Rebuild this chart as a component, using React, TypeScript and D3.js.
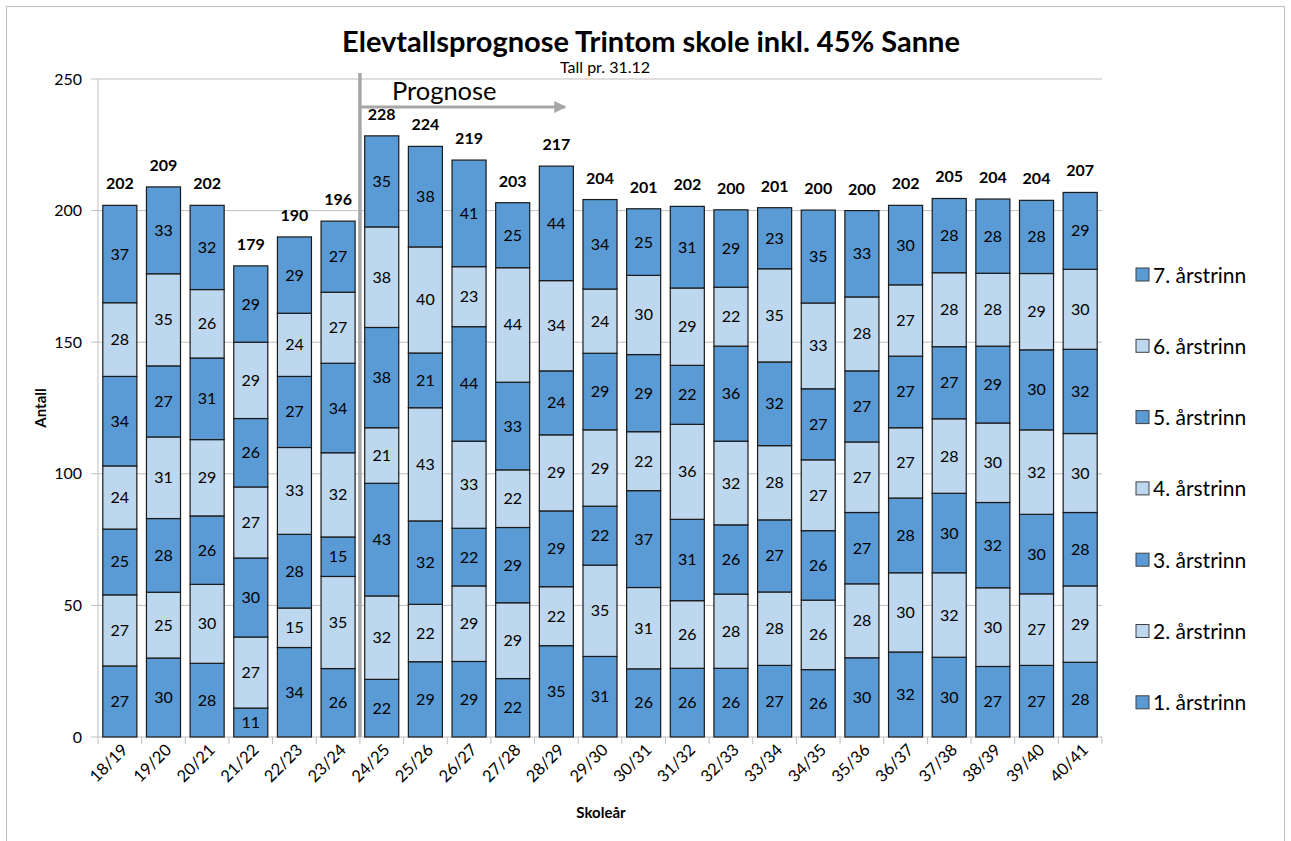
import React from "react";
import * as d3 from "d3";

const years = [
  "18/19", "19/20", "20/21", "21/22", "22/23", "23/24", "24/25", "25/26",
  "26/27", "27/28", "28/29", "29/30", "30/31", "31/32", "32/33", "33/34",
  "34/35", "35/36", "36/37", "37/38", "38/39", "39/40", "40/41",
];

const seriesNames = [
  "1. årstrinn", "2. årstrinn", "3. årstrinn", "4. årstrinn",
  "5. årstrinn", "6. årstrinn", "7. årstrinn",
];

// values per grade (forecast years carry decimals)
const trinn1 = [27, 30, 28, 11, 34, 26, 21.9, 28.6, 28.7, 22.2, 34.7, 30.6, 25.9, 26.1, 26.1, 27.2, 25.6, 30.1, 32.3, 30.3, 26.8, 27.2, 28.4];
const trinn2 = [27, 25, 30, 27, 15, 35, 31.7, 21.8, 28.7, 28.8, 22.4, 34.7, 30.9, 25.7, 28.2, 27.9, 26.4, 28.1, 30.1, 32.1, 29.9, 27.2, 29.0];
const trinn3 = [25, 28, 26, 30, 28, 15, 42.8, 31.7, 21.9, 28.6, 28.8, 22.4, 36.8, 30.9, 26.3, 27.4, 26.4, 27.1, 28.4, 30.2, 32.4, 30.2, 27.9];
const trinn4 = [24, 31, 29, 27, 33, 32, 21.1, 43.0, 33.1, 21.9, 28.9, 29.0, 22.4, 36.1, 31.8, 28.2, 26.9, 26.8, 26.7, 28.3, 30.2, 32.1, 30.0];
const trinn5 = [34, 27, 31, 26, 27, 34, 38.1, 20.8, 43.5, 33.3, 24.3, 29.1, 29.3, 22.4, 36.1, 31.8, 27.0, 27.0, 27.2, 27.4, 29.2, 30.4, 32.0];
const trinn6 = [28, 35, 26, 29, 24, 27, 38.2, 40.3, 22.8, 43.5, 34.3, 24.4, 30.1, 29.4, 22.4, 35.4, 32.6, 28.1, 27.1, 28.1, 27.7, 29.0, 30.4];
const trinn7 = [37, 33, 32, 29, 29, 27, 34.6, 38.2, 40.5, 24.7, 43.5, 34.0, 25.3, 31.0, 29.4, 23.2, 35.3, 32.8, 30.2, 28.2, 28.2, 27.8, 29.2];

const yTicks = [0, 50, 100, 150, 200, 250];
const forecastStart = "24/25";

const dark = "#5b9bd5";
const light = "#bdd7ee";
const font = "Lato, 'Noto Sans', sans-serif";

const W = 1291;
const H = 841;
const plot = { left: 98, right: 1102, top: 79, bottom: 737 };

export default function App() {
  const seriesData = [trinn1, trinn2, trinn3, trinn4, trinn5, trinn6, trinn7];
  const rows = years.map((year, i) => {
    const row: Record<string, number | string> = { year };
    seriesNames.forEach((s, k) => (row[s] = seriesData[k][i]));
    return row;
  });
  const stacked = d3.stack<any>().keys(seriesNames)(rows);
  const totals = years.map((_, i) => d3.sum(seriesData, (s) => s[i]));

  const x = d3
    .scaleBand()
    .domain(years)
    .range([plot.left, plot.right])
    .paddingInner(0.22)
    .paddingOuter(0.11);
  const y = d3.scaleLinear().domain([0, 250]).range([plot.bottom, plot.top]);

  const step = x.step();
  const catW = (plot.right - plot.left) / years.length;
  const tickXs = d3.range(years.length + 1).map((i) => plot.left + i * catW);
  const catCenter = (yr: string) => (x(yr) as number) + x.bandwidth() / 2;
  const forecastX = plot.left + years.indexOf(forecastStart) * catW;

  const legendY0 = 275;
  const legendStep = 71.3;

  return (
    <svg
      width={W}
      height={H}
      style={{ position: "absolute", left: 0, top: 0, background: "#fff" }}
      fontFamily={font}
    >
      <defs>
        <marker id="arrow" viewBox="0 0 10 10" refX="9" refY="5" markerWidth="4" markerHeight="4" orient="auto">
          <path d="M0,0 L10,5 L0,10 z" fill="#a6a6a6" />
        </marker>
      </defs>
      <rect x={6.5} y={6.5} width={1278} height={H + 10} fill="none" stroke="#bfbfbf" />

      <text x={651} y={52} textAnchor="middle" fontSize={29} fontWeight="bold" fill="#000">
        Elevtallsprognose Trintom skole inkl. 45% Sanne
      </text>
      <text x={605} y={73} textAnchor="middle" fontSize={16} fill="#000">
        Tall pr. 31.12
      </text>

      {/* gridlines + y axis */}
      {yTicks.map((t) => (
        <g key={t}>
          {t > 0 && (
            <line x1={plot.left} x2={plot.right} y1={y(t)} y2={y(t)} stroke="#bfbfbf" strokeWidth={1} />
          )}
          <line x1={plot.left - 7} x2={plot.left} y1={y(t)} y2={y(t)} stroke="#bfbfbf" />
          <text x={82} y={y(t) + 5.5} textAnchor="end" fontSize={16} fill="#000">
            {t}
          </text>
        </g>
      ))}
      <line x1={plot.left} x2={plot.left} y1={plot.top} y2={plot.bottom} stroke="#bfbfbf" />
      <line x1={plot.left} x2={plot.right} y1={plot.bottom} y2={plot.bottom} stroke="#bfbfbf" />
      {tickXs.map((tx, i) => (
        <line key={i} x1={tx} x2={tx} y1={plot.bottom} y2={plot.bottom + 7} stroke="#bfbfbf" />
      ))}

      <text transform={`translate(46,${(plot.top + plot.bottom) / 2}) rotate(-90)`} textAnchor="middle" fontSize={15} fontWeight="bold">
        Antall
      </text>
      <text x={601} y={818} textAnchor="middle" fontSize={15} fontWeight="bold">
        Skoleår
      </text>

      {/* forecast marker */}
      <line x1={forecastX} x2={forecastX} y1={plot.top - 6} y2={plot.bottom} stroke="#a6a6a6" strokeWidth={3.5} />
      <line x1={forecastX} x2={forecastX + step * 4.7} y1={107} y2={107} stroke="#a6a6a6" strokeWidth={3} markerEnd="url(#arrow)" />
      <text x={forecastX + 32} y={100} fontSize={25.5} fill="#000">
        Prognose
      </text>

      {/* bars */}
      {stacked.map((layer, k) => (
        <g key={layer.key}>
          {layer.map((d, i) => {
            const yr = years[i];
            const y0 = y(d[0]);
            const y1 = y(d[1]);
            return (
              <g key={yr}>
                <rect
                  x={x(yr)}
                  y={y1}
                  width={x.bandwidth()}
                  height={y0 - y1}
                  fill={k % 2 === 0 ? dark : light}
                  stroke="#1a1a1a"
                  strokeWidth={1.2}
                />
                <text x={catCenter(yr)} y={(y0 + y1) / 2 + 5.5} textAnchor="middle" fontSize={16} fill="#000">
                  {Math.round(seriesData[k][i])}
                </text>
              </g>
            );
          })}
        </g>
      ))}

      {/* totals */}
      {years.map((yr, i) => (
        <text key={yr} x={catCenter(yr)} y={y(totals[i]) - 16} textAnchor="middle" fontSize={16} fontWeight="bold">
          {Math.round(totals[i])}
        </text>
      ))}

      {/* x labels */}
      {years.map((yr) => (
        <text
          key={yr}
          transform={`translate(${catCenter(yr) + 9},${plot.bottom + 14}) rotate(-45)`}
          textAnchor="end"
          fontSize={16.5}
        >
          {yr}
        </text>
      ))}

      {/* legend, top-down from 7. årstrinn */}
      {seriesNames
        .slice()
        .reverse()
        .map((name, j) => {
          const k = seriesNames.length - 1 - j;
          const ly = legendY0 + j * legendStep;
          return (
            <g key={name}>
              <rect x={1136} y={ly - 7} width={13} height={13} fill={k % 2 === 0 ? dark : light} stroke="#404040" strokeWidth={1} />
              <text x={1153} y={ly + 7.5} fontSize={21} fill="#000">
                {name}
              </text>
            </g>
          );
        })}
    </svg>
  );
}
